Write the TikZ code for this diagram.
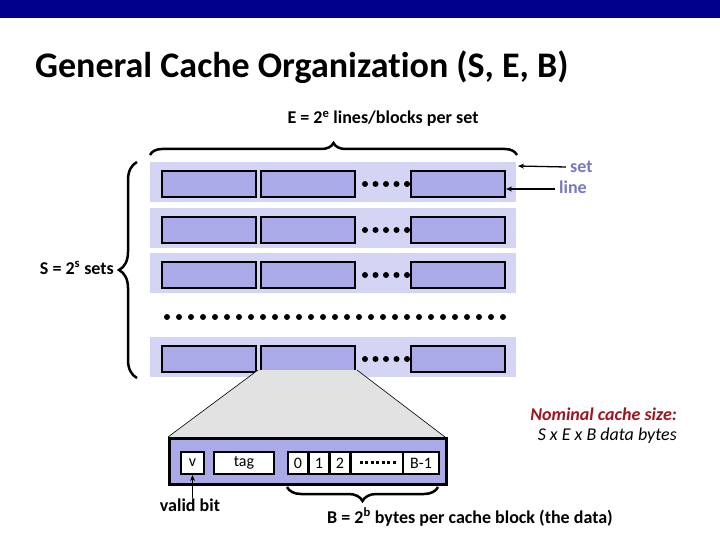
\documentclass[tikz,border=0pt]{standalone}
\usepackage{fontspec}
\setmainfont{Carlito}[Ligatures=NoCommon]
\usetikzlibrary{decorations.pathreplacing,arrows.meta}
\definecolor{navy}{RGB}{0,0,140}
\definecolor{setbg}{RGB}{212,212,244}
\definecolor{blockfill}{RGB}{170,170,232}
\definecolor{lbl}{RGB}{120,120,190}
\definecolor{nomred}{RGB}{160,20,30}
\definecolor{trapgray}{RGB}{226,226,226}
\tikzset{
  rowbg/.style={fill=setbg,draw=none,minimum width=366pt,minimum height=40pt,inner sep=0pt,anchor=north west},
  blk/.style={fill=blockfill,draw=black,line width=2.2pt,minimum width=94pt,minimum height=26pt,inner sep=0pt,anchor=north west},
  wbox/.style={fill=white,draw=black,line width=2pt,minimum height=22pt,inner sep=0pt,anchor=north west,font=\fontsize{16}{18}\selectfont},
  dot/.style={fill=black},
  brc/.style={decorate,line width=2.5pt},
  lab/.style={font=\fontsize{18}{21}\selectfont\bfseries,inner sep=0pt},
  arr/.style={-{Stealth[length=6pt,width=5pt]},line width=1.3pt}
}
\begin{document}
\begin{tikzpicture}[x=1pt,y=-1pt]
\useasboundingbox (0,0) rectangle (720,540);
\fill[white] (0,0) rectangle (720,540);
\fill[navy] (0,0) rectangle (720,18);
\node[anchor=base west,inner sep=0pt,font=\fontsize{36}{42}\selectfont\bfseries] (title) at (35,78) {General Cache Organization (S, E, B)};

% set rows
\foreach \r/\y in {1/162,2/208,3/253,4/337}{
  \node[rowbg] (row\r) at (150,\y) {};
  \node[blk] (b\r a) at (161,\y+8) {};
  \node[blk] (b\r b) at (260,\y+8) {};
  \foreach \i in {0,...,4}{ \fill[dot] (365+10.5*\i,\y+22) circle (3); }
  \node[blk] (b\r c) at (410,\y+8) {};
}
% middle dots
\foreach \i in {0,...,28}{ \fill[dot] (167+12*\i,317) circle (3); }

% top brace
\draw[brc,decoration={brace,amplitude=12pt}] (150,155) -- (517,155);
\node[lab] (Elbl) at (383,119) {E = 2\textsuperscript{e} lines/blocks per set};

% left brace
\draw[brc,decoration={brace,amplitude=18pt}] (137,378) -- (137,162);
\node[lab,anchor=east] (Slbl) at (114,268) {S = 2\textsuperscript{s} sets};

% set / line labels
\node[lab,text=lbl,anchor=west] (setlbl) at (570,167) {set};
\node[lab,text=lbl,anchor=west] (linelbl) at (559,187) {line};
\coordinate (setend) at (518,166);
\coordinate (lineend) at (506,189);
\draw[arr] (setlbl.west) ++(-4,0) coordinate (setstart) -- (setend);
\draw[arr] (linelbl.west) ++(-4,2) coordinate (linestart) -- (lineend);

% projection
\coordinate (p1) at (258,370);
\coordinate (p2) at (357,370);
\coordinate (p3) at (445,437);
\coordinate (p4) at (168,437);
\fill[trapgray] (p1) -- (p2) -- (p3) -- (p4) -- cycle;
\draw[line width=0.6pt] (p1) -- (p4) (p2) -- (p3);

% cache line
\node[fill=blockfill,draw=black,line width=2.5pt,minimum width=277pt,minimum height=46pt,inner sep=0pt,anchor=north west] (cline) at (168,437) {};
\node[wbox,minimum width=23pt] (vbox) at (180,451) {v};
\node[wbox,minimum width=60pt] (tagbox) at (213,451) {tag};
\node[wbox,minimum width=20pt] (b0) at (287,451) {0};
\node[wbox,minimum width=20pt] (b1) at (308,451) {1};
\node[wbox,minimum width=20pt] (b2) at (329,451) {2};
\node[wbox,minimum width=52pt] (bdots) at (350,451) {};
\foreach \i in {0,...,6}{ \fill[black] (359.5+5.5*\i,460.5) rectangle ++(3,3); }
\node[wbox,minimum width=36pt] (bB) at (402,451) {B-1};

% valid bit
\node[lab] (vlbl) at (190,505) {valid bit};
\draw[arr] (vlbl.north -| vbox.south) -- (vbox.south);

% bottom brace
\draw[brc,decoration={brace,amplitude=14pt}] (438,487) -- (287,487);
\node[lab] (Blbl) at (470,517) {B = 2\textsuperscript{b} bytes per cache block (the data)};

% nominal size
\node[anchor=east,inner sep=0pt,font=\fontsize{18}{21}\selectfont\bfseries\itshape,text=nomred] (nom1) at (677,414) {Nominal cache size:};
\node[anchor=east,inner sep=0pt,font=\fontsize{18}{21}\selectfont\itshape] (nom2) at (677,436) {S x E x B data bytes};
\end{tikzpicture}
\end{document}
